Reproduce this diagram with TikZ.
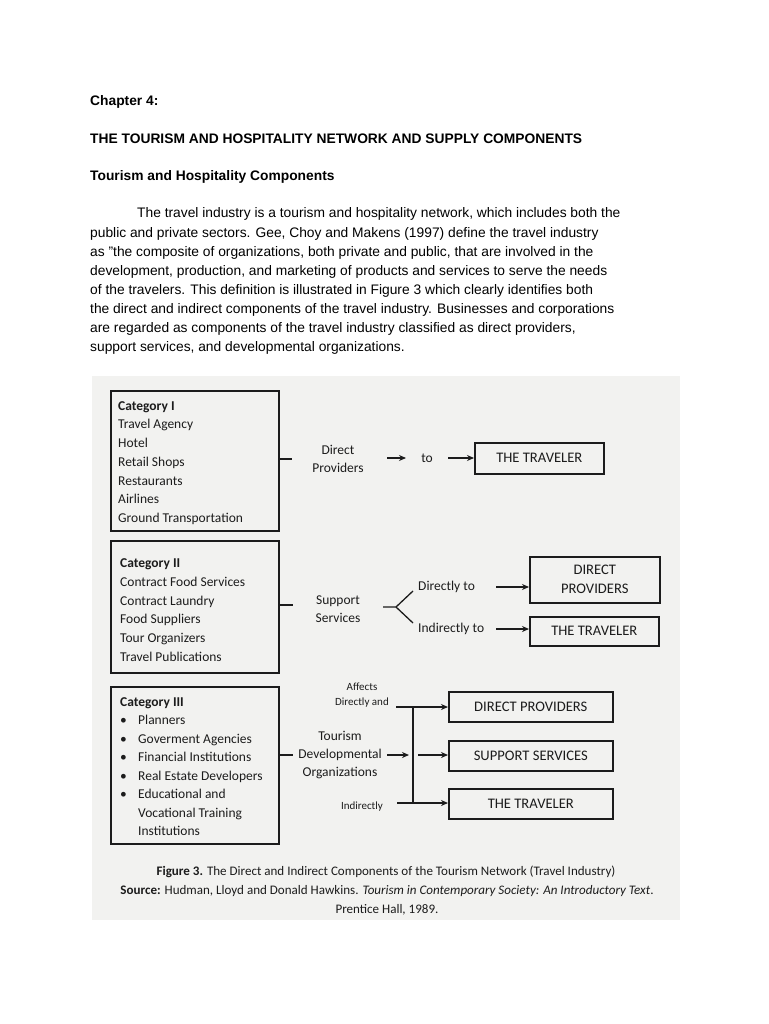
\documentclass[tikz,border=0pt]{standalone}
\usepackage{fontspec}
\setmainfont{Liberation Sans}
\newfontfamily\diagfont{Carlito}
\usetikzlibrary{arrows.meta}
\definecolor{ink}{RGB}{28,28,28}
\definecolor{scan}{RGB}{242,242,240}
\tikzset{
  box/.style={draw=ink, line width=1.6pt, rectangle, inner sep=0pt},
  lbl/.style={font=\diagfont\fontsize{13.5}{16}\selectfont, text=ink, inner sep=0pt},
  small/.style={font=\diagfont\fontsize{11}{13}\selectfont, text=ink, inner sep=0pt},
  boxlbl/.style={font=\diagfont\fontsize{14.6}{19}\selectfont, text=ink, align=center},
  body/.style={font=\fontsize{13.8}{16}\selectfont, text=black, inner sep=0pt, anchor=base west},
  head/.style={font=\bfseries\fontsize{13.8}{16}\selectfont, text=black, inner sep=0pt, anchor=base west},
  captext/.style={font=\diagfont\fontsize{13.05}{16}\selectfont, text=ink, inner sep=0pt, anchor=base},
  conn/.style={draw=ink, line width=1.3pt},
  arr/.style={draw=ink, line width=1.3pt, -{Stealth[length=7pt,width=6pt]}}
}
\begin{document}
\begin{tikzpicture}[x=1pt,y=-1pt]
\useasboundingbox (0,0) rectangle (768,1024);
\fill[white] (0,0) rectangle (768,1024);
\fill[scan] (92,376) rectangle (680,920);

% ---- page text ----
\node[head] (ch) at (90,106) {Chapter 4:};
\node[head] (ti) at (90,144) {THE TOURISM AND HOSPITALITY NETWORK AND SUPPLY COMPONENTS};
\node[head] (sub) at (90,181) {Tourism and Hospitality Components};
\node[body] (p1) at (137,218) {The travel industry is a tourism and hospitality network, which includes both the};
\node[body] (p2) at (90,237) {public and private sectors. Gee, Choy and Makens (1997) define the travel industry};
\node[body] (p3) at (90,256) {as \symbol{"22}the composite of organizations, both private and public, that are involved in the};
\node[body] (p4) at (90,275) {development, production, and marketing of products and services to serve the needs};
\node[body] (p5) at (90,294) {of the travelers. This definition is illustrated in Figure 3 which clearly identifies both};
\node[body] (p6) at (90,313) {the direct and indirect components of the travel industry. Businesses and corporations};
\node[body] (p7) at (90,332) {are regarded as components of the travel industry classified as direct providers,};
\node[body] (p8) at (90,351) {support services, and developmental organizations.};

% ---- Category boxes ----
\node[box, anchor=north west, minimum width=168pt, minimum height=140pt] (cat1) at (110,390) {};
\node[box, anchor=north west, minimum width=168pt, minimum height=132pt] (cat2) at (110,540) {};
\node[box, anchor=north west, minimum width=168pt, minimum height=157pt] (cat3) at (110,686) {};

\begin{scope}[every node/.style={lbl, anchor=base west}]
\node[font=\diagfont\bfseries\fontsize{13.5}{16}\selectfont] (c1h) at (118,410) {Category I};
\node (c1a) at (118,428) {Travel Agency};
\node (c1b) at (118,447) {Hotel};
\node (c1c) at (118,466) {Retail Shops};
\node (c1d) at (118,485) {Restaurants};
\node (c1e) at (118,503) {Airlines};
\node (c1f) at (118,522) {Ground Transportation};

\node[font=\diagfont\bfseries\fontsize{13.5}{16}\selectfont] (c2h) at (120,567) {Category II};
\node (c2a) at (120,586) {Contract Food Services};
\node (c2b) at (120,605) {Contract Laundry};
\node (c2c) at (120,623) {Food Suppliers};
\node (c2d) at (120,642) {Tour Organizers};
\node (c2e) at (120,661) {Travel Publications};

\node[font=\diagfont\bfseries\fontsize{13.5}{16}\selectfont] (c3h) at (120,706) {Category III};
\node (b1) at (120,724) {\textbullet};
\node (b2) at (120,743) {\textbullet};
\node (b3) at (120,761) {\textbullet};
\node (b4) at (120,780) {\textbullet};
\node (b5) at (120,798) {\textbullet};
\node (c3a) at (138,724) {Planners};
\node (c3b) at (138,743) {Goverment Agencies};
\node (c3c) at (138,761) {Financial Institutions};
\node (c3d) at (138,780) {Real Estate Developers};
\node (c3e) at (138,798) {Educational and};
\node (c3f) at (138,817) {Vocational Training};
\node (c3g) at (138,835) {Institutions};
\end{scope}

% ---- Row 1: Direct providers ----
\node[lbl, align=center, font=\diagfont\fontsize{13.5}{18.5}\selectfont] (dp) at (338,459) {Direct\\Providers};
\node[lbl] (to) at (427,458) {to};
\node[box, boxlbl, anchor=north west, minimum width=129pt, minimum height=31pt] (trav1) at (474,442) {THE TRAVELER};
\coordinate (s1) at (292,459);
\coordinate (a1s) at (387,458);
\coordinate (a1e) at (406,458);
\coordinate (a2s) at (448,458);
\draw[conn] (s1 -| cat1.east) -- (s1);
\draw[arr] (a1s) -- (a1e);
\draw[arr] (a2s) -- (a2s -| trav1.west);

% ---- Row 2: Support services ----
\node[lbl, align=center, font=\diagfont\fontsize{13.5}{18.5}\selectfont] (ss) at (338,609) {Support\\Services};
\node[lbl, anchor=west] (dto) at (418,587) {Directly to};
\node[lbl, anchor=west] (ito) at (418,629) {Indirectly to};
\node[box, boxlbl, anchor=north west, minimum width=130pt, minimum height=46pt] (dp2) at (529,556) {DIRECT\\PROVIDERS};
\node[box, boxlbl, anchor=north west, minimum width=129pt, minimum height=29pt] (trav2) at (529,616) {THE TRAVELER};
\coordinate (s2) at (293,605);
\coordinate (f0) at (383,607);
\coordinate (fj) at (396,607);
\coordinate (fu) at (413,591);
\coordinate (fd) at (413,623);
\coordinate (a3s) at (496,587);
\coordinate (a4s) at (496,629);
\draw[conn] (s2 -| cat2.east) -- (s2);
\draw[conn] (f0) -- (fj) -- (fu);
\draw[conn] (fj) -- (fd);
\draw[arr] (a3s) -- (a3s -| dp2.west);
\draw[arr] (a4s) -- (a4s -| trav2.west);

% ---- Row 3: Developmental organizations ----
\node[small] (aff) at (362,687) {Affects};
\node[small] (dand) at (362,703) {Directly and};
\node[small] (ind) at (362,807) {Indirectly};
\node[lbl, align=center, font=\diagfont\fontsize{13.5}{18.2}\selectfont] (tdo) at (340,755) {Tourism\\Developmental\\Organizations};
\node[box, boxlbl, anchor=north west, minimum width=164pt, minimum height=30pt] (dp3) at (448,691) {DIRECT PROVIDERS};
\node[box, boxlbl, anchor=north west, minimum width=164pt, minimum height=30pt] (ss3) at (448,740) {SUPPORT SERVICES};
\node[box, boxlbl, anchor=north west, minimum width=164pt, minimum height=30pt] (trav3) at (448,788) {THE TRAVELER};
\coordinate (s3) at (293,755);
\coordinate (vt) at (413,707);
\coordinate (vb) at (413,803);
\coordinate (ht) at (396,707);
\coordinate (hb) at (397,803);
\coordinate (a5s) at (387,755);
\coordinate (a5e) at (409,755);
\coordinate (a6s) at (418,755);
\draw[conn] (s3 -| cat3.east) -- (s3);
\draw[conn] (vt) -- (vb);
\draw[arr] (ht) -- (ht -| dp3.west);
\draw[arr] (hb) -- (hb -| trav3.west);
\draw[arr] (a5s) -- (a5e);
\draw[arr] (a6s) -- (a6s -| ss3.west);

% ---- caption ----
\node[captext] (cap1) at (386,875) {\textbf{Figure 3.} The Direct and Indirect Components of the Tourism Network (Travel Industry)};
\node[captext] (cap2) at (387,894) {\textbf{Source:} Hudman, Lloyd and Donald Hawkins. \textit{Tourism in Contemporary Society: An Introductory Text}.};
\node[captext] (cap3) at (387,913) {Prentice Hall, 1989.};
\end{tikzpicture}
\end{document}
